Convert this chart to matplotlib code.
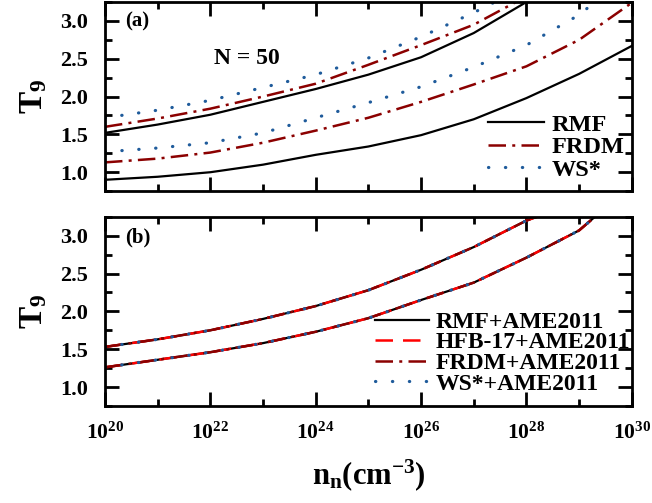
import numpy as np
import matplotlib
matplotlib.use("Agg")
import matplotlib.pyplot as plt
from matplotlib.ticker import FuncFormatter, NullFormatter, MultipleLocator

plt.rcParams['font.family'] = ['Liberation Serif', 'DejaVu Serif']
plt.rcParams['font.weight'] = 'bold'
plt.rcParams['mathtext.fontset'] = 'custom'
plt.rcParams['mathtext.bf'] = 'Liberation Serif:bold'
plt.rcParams['mathtext.rm'] = 'Liberation Serif:bold'
plt.rcParams['mathtext.it'] = 'Liberation Serif:bold'

# log10 of neutron density (cm^-3)
logn_rmf_up = [20, 21, 22, 23, 24, 25, 26, 27, 28]
t9_rmf_up = [1.52, 1.63, 1.76, 1.93, 2.10, 2.29, 2.52, 2.84, 3.25]
logn_rmf_lo = [20, 21, 22, 23, 24, 25, 26, 27, 28, 29, 30]
t9_rmf_lo = [0.90, 0.94, 1.00, 1.10, 1.23, 1.34, 1.49, 1.70, 1.98, 2.30, 2.67]

logn_frdm_up = [20, 21, 22, 23, 24, 25, 26, 27, 27.8]
t9_frdm_up = [1.60, 1.71, 1.84, 2.00, 2.17, 2.42, 2.68, 2.95, 3.25]
logn_frdm_lo = [20, 21, 22, 23, 24, 25, 26, 27, 28, 29, 30]
t9_frdm_lo = [1.13, 1.18, 1.26, 1.39, 1.55, 1.72, 1.93, 2.16, 2.40, 2.75, 3.24]

logn_ws_up = [20, 21, 22, 23, 24, 25, 26, 27, 27.4]
t9_ws_up = [1.72, 1.82, 1.95, 2.12, 2.29, 2.51, 2.79, 3.11, 3.25]
logn_ws_lo = [20, 21, 22, 23, 24, 25, 26, 27, 28, 29, 29.3]
t9_ws_lo = [1.27, 1.32, 1.39, 1.52, 1.72, 1.92, 2.13, 2.39, 2.68, 3.08, 3.25]

# panel (b): all mass models with AME2011 coincide
logn_b_up = [20, 21, 22, 23, 24, 25, 26, 27, 28, 28.2]
t9_b_up = [1.53, 1.63, 1.75, 1.90, 2.07, 2.28, 2.55, 2.85, 3.20, 3.25]
logn_b_lo = [20, 21, 22, 23, 24, 25, 26, 27, 28, 29, 29.3]
t9_b_lo = [1.26, 1.36, 1.46, 1.58, 1.73, 1.91, 2.15, 2.38, 2.71, 3.07, 3.25]

labels_b = ['RMF+AME2011', 'HFB-17+AME2011', 'FRDM+AME2011', 'WS*+AME2011']

darkred = '#8b0000'
blue = '#1f5b9b'
st_rmf = dict(color='black', lw=1.6)
st_hfb = dict(color='#ff0000', lw=1.8, dashes=(7, 4))
st_frdm = dict(color=darkred, lw=1.8, dashes=(7, 2.5, 1.2, 2.5))
st_ws = dict(color=blue, lw=2.3, dashes=(0.1, 5.2), dash_capstyle='round')

fig = plt.figure(figsize=(6.52, 5.03), dpi=100)
ax1 = fig.add_axes([0.161, 0.620, 0.808, 0.376])
ax2 = fig.add_axes([0.161, 0.193, 0.808, 0.376])

def p(v):
    return 10.0 ** np.array(v, dtype=float)

ax1.plot(p(logn_rmf_up), t9_rmf_up, label='RMF', **st_rmf)
ax1.plot(p(logn_rmf_lo), t9_rmf_lo, **st_rmf)
ax1.plot(p(logn_frdm_up), t9_frdm_up, label='FRDM', **st_frdm)
ax1.plot(p(logn_frdm_lo), t9_frdm_lo, **st_frdm)
ax1.plot(p(logn_ws_up), t9_ws_up, label='WS*', **st_ws)
ax1.plot(p(logn_ws_lo), t9_ws_lo, **st_ws)

for lab, st in zip(labels_b, [st_rmf, st_hfb, st_frdm, st_ws]):
    ax2.plot(p(logn_b_up), t9_b_up, label=lab, **st)
    ax2.plot(p(logn_b_lo), t9_b_lo, **st)

major = [1e20, 1e22, 1e24, 1e26, 1e28, 1e30]
minor = [1e21, 1e23, 1e25, 1e27, 1e29]
yt = [1.0, 1.5, 2.0, 2.5, 3.0]
fmt = FuncFormatter(lambda x, pos: r'$\mathbf{10^{%d}}$' % round(np.log10(x)))

for ax in (ax1, ax2):
    ax.set_xscale('log')
    ax.set_xlim(1e20, 1e30)
    ax.set_ylim(0.75, 3.25)
    ax.set_xticks(major)
    ax.set_xticks(minor, minor=True)
    ax.xaxis.set_minor_formatter(NullFormatter())
    ax.set_yticks(yt)
    ax.set_yticklabels(['%.1f' % v for v in yt], fontweight='bold')
    ax.yaxis.set_minor_locator(MultipleLocator(0.25))
    ax.tick_params(which='both', direction='in', top=True, right=True, width=2)
    ax.tick_params(which='major', length=10)
    ax.tick_params(which='minor', length=5)
    ax.tick_params(axis='y', labelsize=16, pad=12)
    ax.tick_params(axis='x', labelsize=15.5, pad=12)
    for s in ax.spines.values():
        s.set_linewidth(2)
    ax.set_ylabel(r'$\mathbf{T_9}$', fontsize=24, labelpad=8)

ax1.tick_params(axis='x', labelbottom=False)
ax2.xaxis.set_major_formatter(fmt)
ax2.set_xlabel(r'$\mathbf{n_n(cm^{-3})}$', fontsize=22, labelpad=10)

ax1.text(0.038, 0.895, '(a)', transform=ax1.transAxes, fontsize=15, fontweight='bold', va='center')
ax2.text(0.038, 0.89, '(b)', transform=ax2.transAxes, fontsize=15, fontweight='bold', va='center')
ax1.text(0.27, 0.70, 'N = 50', transform=ax1.transAxes, fontsize=17, fontweight='bold',
         va='center', ha='center')

ax1.legend(loc='upper left', bbox_to_anchor=(0.727, 0.41), frameon=False, fontsize=17.5,
           handlelength=2.3, handletextpad=0.3, labelspacing=0.02, borderpad=0, borderaxespad=0)
ax2.legend(loc='upper left', bbox_to_anchor=(0.512, 0.50), frameon=False, fontsize=17,
           handlelength=2.3, handletextpad=0.3, labelspacing=-0.04, borderpad=0, borderaxespad=0)

fig.savefig('out.png', dpi=100)
